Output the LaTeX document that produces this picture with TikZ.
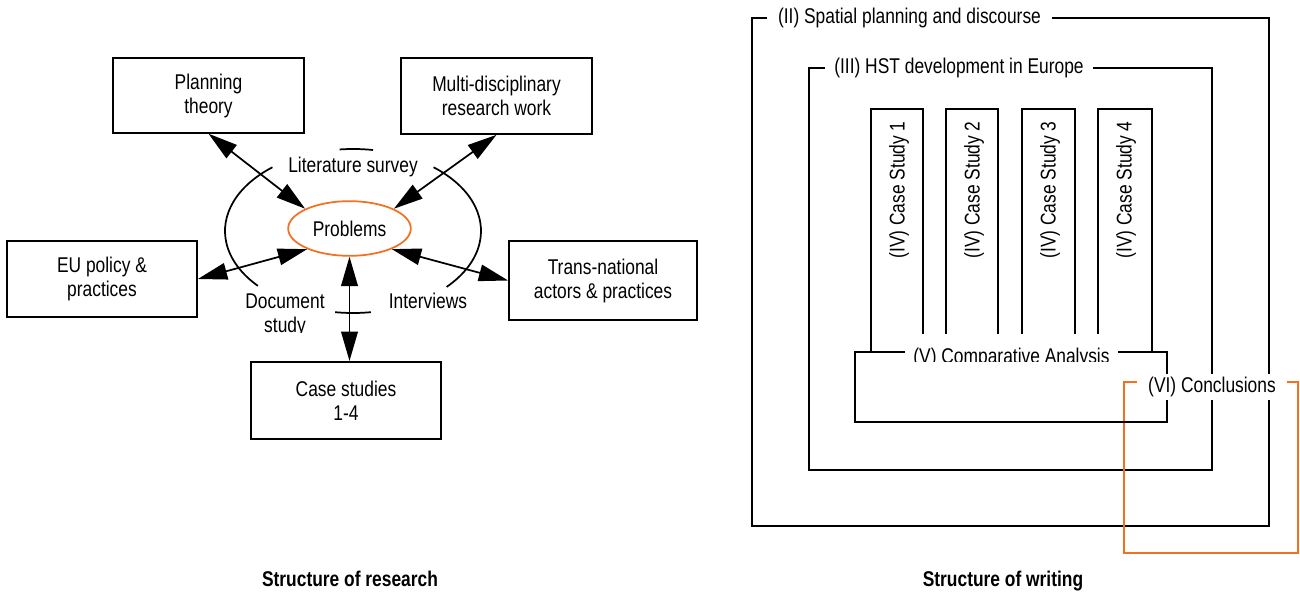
\documentclass[tikz,border=0pt]{standalone}
\usepackage{fontspec}
\setmainfont[FakeStretch=0.815]{Liberation Sans}
\usetikzlibrary{arrows.meta,shapes.geometric}
\definecolor{orng}{RGB}{243,112,33}
\begin{document}
\begin{tikzpicture}[x=0.75pt,y=-0.75pt,
  font=\fontsize{16}{18}\selectfont, line width=1.3pt,
  rbox/.style={draw, align=center, inner sep=0pt},
  dbl/.style={{Triangle[length=22pt,width=12.5pt]}-{Triangle[length=22pt,width=12.5pt]}, line width=1.3pt},
  lbl/.style={fill=white, inner sep=0pt},
  vtext/.style={rotate=90, inner sep=0pt},
  title/.style={font=\fontsize{16}{18}\selectfont\bfseries, anchor=base}
]
\useasboundingbox (0,0) rectangle (1300,592);

% ---------------- left: structure of research
\node[rbox, minimum width=143pt, minimum height=56pt] (plan) at (208.5,95.5) {Planning\\theory};
\node[rbox, minimum width=143pt, minimum height=57pt] (multi) at (496.5,96) {Multi-disciplinary\\research work};
\node[rbox, minimum width=142.5pt, minimum height=57pt] (eu) at (102,279) {EU policy \&\\practices};
\node[rbox, minimum width=141pt, minimum height=59pt] (trans) at (603,280.5) {Trans-national\\actors \& practices};
\node[rbox, minimum width=142.5pt, minimum height=58pt] (case) at (346,400.5) {Case studies\\1-4};
\node[ellipse, draw=orng, minimum width=92pt, minimum height=41pt, inner sep=0pt] (prob) at (349.5,228.5) {Problems};

% big surrounding ellipse (visible pieces)
\coordinate (bc) at (353,231);
\draw (bc) ++(231:128 and 82) arc[start angle=231,end angle=138,x radius=128,y radius=82];
\draw (bc) ++(-51:128 and 82) arc[start angle=-51,end angle=43,x radius=128,y radius=82];
\draw (bc) ++(264:128 and 82) arc[start angle=264,end angle=279,x radius=128,y radius=82];
\draw (bc) ++(98:128 and 82) arc[start angle=98,end angle=82,x radius=128,y radius=82];

% arrows
\draw[dbl] (plan.south) -- (prob.156);
\draw[dbl] (multi.south) -- (prob.24);
\draw[dbl] (eu.east) -- (prob.206);
\draw[dbl] (prob.334) -- (trans.west);
\draw[dbl] (prob.south) -- (prob.south |- case.north);

% method labels
\node[anchor=base] (lit) at (353,172) {Literature survey};
\node[anchor=base] (intv) at (428,308) {Interviews};
\begin{scope}
  \clip (225,280) rectangle (345,332);
  \node[align=center] (doc) at (285,315) {Document\\study};
\end{scope}

\node[title] (t1) at (350,586) {Structure of research};

% ---------------- right: structure of writing
\draw (752,18) rectangle (1269,526);
\draw (809,68) rectangle (1212,470);
\draw[orng] (1124,382) rectangle (1298,553);
\draw (855,352) rectangle (1167,422);
\node[lbl, minimum width=112.5pt, minimum height=19pt] (vi) at (1212,387) {(VI) Conclusions};

\draw (871,352) -- (871,109) -- (923,109) -- (923,352);
\draw (946,352) -- (946,109) -- (998,109) -- (998,352);
\draw (1022,352) -- (1022,109) -- (1075,109) -- (1075,352);
\draw (1098,352) -- (1098,109) -- (1152,109) -- (1152,352);

\node[vtext] (cs1) at (899,190) {(IV) Case Study 1};
\node[vtext] (cs2) at (974,190) {(IV) Case Study 2};
\node[vtext] (cs3) at (1050,190) {(IV) Case Study 3};
\node[vtext] (cs4) at (1126,190) {(IV) Case Study 4};

\begin{scope}
  \clip (905,334) rectangle (1118,361);
  \node[lbl, minimum width=160pt, minimum height=45pt, anchor=base] (v) at (1011.5,363) {(V) Comparative Analysis};
\end{scope}

\node[lbl, minimum width=214pt, minimum height=16pt] (ii) at (909.5,18) {(II) Spatial planning and discourse};
\node[lbl, minimum width=201pt, minimum height=16pt] (iii) at (959,68) {(III) HST development in Europe};

\node[title] (t2) at (1003,586) {Structure of writing};
\end{tikzpicture}
\end{document}
